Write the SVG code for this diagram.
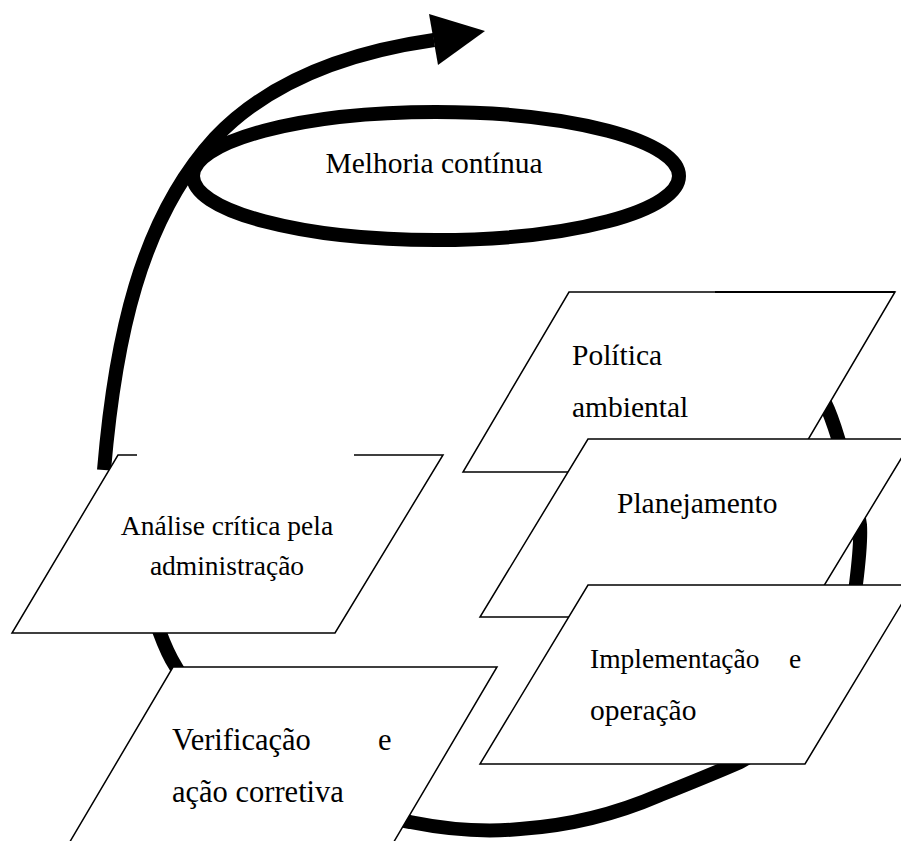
<svg xmlns="http://www.w3.org/2000/svg" width="901" height="841" viewBox="0 0 901 841">
<defs>
<style>
.box{fill:#fff;stroke:none}
.edge{fill:none;stroke:#000;stroke-width:1.5;stroke-linejoin:miter}
.thick{fill:none;stroke:#000;stroke-width:14;stroke-linecap:butt}
text{font-family:"Liberation Serif","Times New Roman",serif;fill:#000}
.t29{font-size:29.5px}
.t27{font-size:27.5px}
.t30{font-size:30.5px}
</style>
</defs>
<rect width="901" height="841" fill="#fff"/>
<g id="melhoria">
<ellipse cx="436" cy="176" rx="243" ry="64" fill="none" stroke="#000" stroke-width="14"/>
<text class="t29" x="434" y="173" text-anchor="middle">Melhoria contínua</text>
</g>
<g id="connectors">
<path class="thick" d="M104,470 C115,340 140,220 215,138 C270,80 350,52 434,40"/>
<polygon points="429,14 438,65 485,31" fill="#000"/>
<path class="thick" d="M148,590 C152,615 165,650 176,667 C205,720 300,805 410,822 C450,830 490,832 520,829 C580,825 630,808 660,795 C690,783 715,773 740,762 C800,730 850,650 856,584 C859,560 861,540 860,525 C855,490 845,460 838,438 C834,425 830,413 825,403 C815,380 800,355 780,330"/>
</g>
<g id="politica">
<polygon class="box" points="569,292 895,292 789,472 463,472"/>
<polygon class="edge" points="569,292 895,292 789,472 463,472"/>
<line x1="715" y1="292" x2="895" y2="292" stroke="#000" stroke-width="2.2"/>
<text class="t29" x="572" y="365">Política</text>
<text class="t29" x="572" y="417">ambiental</text>
</g>
<g id="planejamento">
<polygon class="box" points="588,439 913,439 805,617 480,617"/>
<polygon class="edge" points="588,439 913,439 805,617 480,617"/>
<text class="t29" x="617" y="513">Planejamento</text>
</g>
<g id="implementacao">
<polygon class="box" points="588,585 913,585 805,764 480,764"/>
<polygon class="edge" points="588,585 913,585 805,764 480,764"/>
<text class="t27" y="668"><tspan x="590">Implementação</tspan><tspan x="789">e</tspan></text>
<text class="t29" x="590" y="720">operação</text>
</g>
<g id="analise">
<polygon class="box" points="118,455 443,455 335,633 12,633"/>
<polyline class="edge" points="137,455 118,455 12,633 335,633 443,455 354,455"/>
<text class="t27" x="227" y="535" text-anchor="middle">Análise crítica pela</text>
<text class="t27" x="227" y="575" text-anchor="middle">administração</text>
</g>
<g id="verificacao">
<polygon class="box" points="173,667 497,667 392,845 68,845"/>
<polygon class="edge" points="173,667 497,667 392,845 68,845"/>
<text class="t30" y="750"><tspan x="172">Verificação</tspan><tspan x="378">e</tspan></text>
<text class="t30" x="172" y="802">ação corretiva</text>
</g>
</svg>
